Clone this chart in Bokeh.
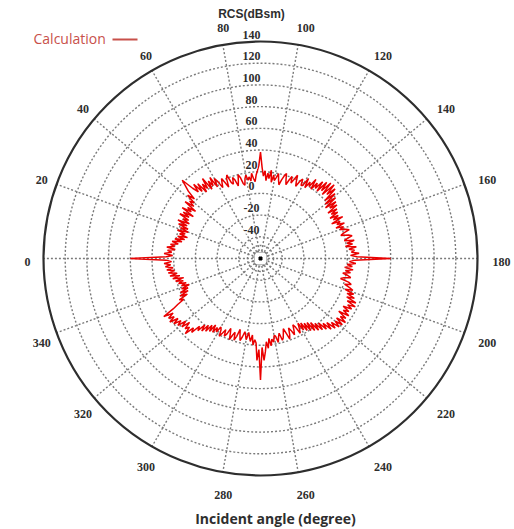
import numpy as np
from bokeh.plotting import figure
from bokeh.models import ColumnDataSource, LabelSet, Label, Range1d
from bokeh.embed import file_html
from bokeh.resources import INLINE

# ---- data -------------------------------------------------------------
# radial axis (dBsm)
R_MIN, R_MAX = -60, 140
ring_values = [120, 100, 80, 60, 40, 20, 0, -20, -40]
radial_tick_values = [140, 120, 100, 80, 60, 40, 20, 0, -20, -40]
radial_tick_labels = ["140", "120", "100", "80", "60", "40", "20", "0", "-20", "-40"]
inner_ring_values = [-48, -53]

# angular axis (degree)
spoke_angles = list(range(0, 360, 20))
angle_tick_labels = [str(a) for a in spoke_angles]

# calculated RCS, one value per degree (0..360)
rcs_angle = list(range(0, 361))
rcs_db = [
    60, 27, 21, 29, 22, 26, 19, 27, 20, 24,
    17, 23, 14, 21, 12, 19, 10, 18, 13, 21,
    11, 19, 12, 22, 14, 24, 13, 20, 15, 25,
    16, 23, 13, 26, 17, 22, 14, 27, 18, 24,
    20, 29, 22, 31, 36, 42, 30, 24, 32, 22,
    30, 19, 27, 21, 31, 18, 26, 20, 28, 17,
    25, 21, 14, 18, 22, 17, 12, 20, 23, 15,
    13, 19, 16, 10, 14, 20, 17, 11, 9, 15,
    18, 13, 16, 12, 19, 14, 11, 17, 21, 26,
    38, 24, 16, 21, 12, 19, 14, 22, 11, 18,
    13, 16, 20, 14, 10, 15, 19, 22, 16, 12,
    17, 21, 15, 19, 24, 18, 14, 20, 23, 17,
    18, 26, 17, 24, 20, 29, 19, 27, 22, 31,
    21, 33, 24, 35, 22, 36, 25, 34, 20, 31,
    18, 29, 16, 27, 19, 26, 15, 24, 17, 23,
    14, 22, 16, 25, 13, 21, 17, 24, 15, 22,
    18, 23, 26, 20, 17, 24, 27, 22, 19, 28,
    21, 26, 19, 29, 22, 27, 24, 31, 23, 29,
    60, 27, 22, 28, 20, 25, 18, 26, 19, 24,
    17, 22, 25, 19, 16, 24, 27, 21, 26, 30,
    23, 32, 26, 34, 27, 37, 29, 38, 31, 36,
    28, 35, 30, 37, 27, 36, 31, 38, 29, 37,
    30, 36, 28, 34, 25, 32, 23, 29, 20, 27,
    18, 25, 15, 23, 13, 21, 12, 19, 10, 17,
    9, 14, 18, 11, 8, 13, 17, 12, 9, 15,
    19, 13, 8, 12, 16, 18, 11, 14, 19, 13,
    12, 18, 15, 21, 14, 23, 17, 26, 34, 22,
    52, 24, 34, 18, 15, 20, 11, 17, 13, 9,
    16, 12, 9, 14, 18, 13, 8, 15, 19, 12,
    15, 20, 14, 10, 16, 19, 13, 17, 21, 15,
    13, 19, 15, 21, 14, 22, 16, 24, 18, 26,
    20, 28, 24, 33, 29, 38, 31, 35, 28, 36,
    30, 38, 33, 40, 34, 42, 36, 41, 35, 44,
    33, 27, 20, 24, 15, 22, 13, 20, 12, 18,
    10, 17, 12, 19, 14, 21, 13, 23, 16, 25,
    18, 26, 20, 27, 21, 28, 23, 29, 22, 27,
    60,
]

# ---- geometry helpers -------------------------------------------------
W, H = 514, 529
CX, CY = 260, 258            # pole position in pixels (from top-left)
K = 217.0 / (R_MAX - R_MIN)  # pixels per dB
TICK_FONT = "Liberation Sans"


def rad(db):
    return np.asarray(db, dtype=float) - R_MIN


def polar(db, deg):
    # 0 deg on the left, angles run clockwise over the top
    phi = np.deg2rad(180.0 - np.asarray(deg, dtype=float))
    r = rad(db)
    return r * np.cos(phi), r * np.sin(phi)


def px(dx_px, dy_px):
    # pixel offset from the pole -> data units (dy positive = down)
    return dx_px / K, -dy_px / K


p = figure(
    width=W, height=H,
    x_range=Range1d(-CX / K, (W - CX) / K),
    y_range=Range1d(-(H - CY) / K, CY / K),
    x_axis_type=None, y_axis_type=None,
    toolbar_location=None, output_backend="svg",
    min_border=0, outline_line_color=None,
    background_fill_color="white", border_fill_color="white",
)
p.grid.visible = False

GRID = "#7a7a7a"
INK = "#2e2e2e"

# dotted grid rings
for v in ring_values + inner_ring_values:
    p.circle(x=0, y=0, radius=float(rad(v)), fill_color=None,
             line_color=GRID, line_width=1.4, line_dash="2 2")

# spokes every 20 degrees
r0 = float(rad(inner_ring_values[-1]))
r1 = float(rad(R_MAX))
ang = np.deg2rad(180.0 - np.array(spoke_angles, dtype=float))
p.segment(x0=r0 * np.cos(ang), y0=r0 * np.sin(ang),
          x1=r1 * np.cos(ang), y1=r1 * np.sin(ang),
          line_color=GRID, line_width=1.4, line_dash="2 2")

# small box and dot at the pole
hb = 6 / K
p.rect(x=0, y=0, width=2 * hb, height=2 * hb, fill_color=None,
       line_color=GRID, line_width=1, line_dash="1 1")
p.rect(x=0, y=0, width=3 / K, height=3 / K, fill_color="black", line_color="black")

# outer boundary
p.circle(x=0, y=0, radius=float(rad(R_MAX)), fill_color=None,
         line_color=INK, line_width=2.2)

# RCS trace
xs, ys = polar(rcs_db, rcs_angle)
p.line(xs, ys, line_color="#ea0000", line_width=1.5)

# radial tick labels along the top
lx, _ = px(-9, 0)
ly = rad(radial_tick_values) + 7 / K
p.add_layout(LabelSet(
    source=ColumnDataSource(dict(x=[lx] * len(ly), y=ly, t=radial_tick_labels)),
    x="x", y="y", text="t", text_align="center", text_baseline="middle",
    text_font=TICK_FONT, text_font_style="bold", text_font_size="12px",
    text_color=INK, background_fill_color="white"))

# angle tick labels around the rim
R_LBL = 237 / K
phi = np.deg2rad(180.0 - np.array(spoke_angles, dtype=float))
ax = R_LBL * np.cos(phi) + 4 / K
ay = R_LBL * np.sin(phi) - 3 / K
p.add_layout(LabelSet(
    source=ColumnDataSource(dict(x=ax, y=ay, t=angle_tick_labels)),
    x="x", y="y", text="t", text_align="center", text_baseline="middle",
    text_font=TICK_FONT, text_font_style="bold", text_font_size="12px",
    text_color=INK))

# axis titles
tx, ty = px(251 - CX, 13 - CY)
p.add_layout(Label(x=tx, y=ty, text="RCS(dBsm)", text_align="center",
                   text_baseline="middle", text_font=TICK_FONT,
                   text_font_style="bold", text_font_size="12px", text_color=INK))
bx, by = px(275 - CX, 518 - CY)
p.add_layout(Label(x=bx, y=by, text="Incident angle (degree)", text_align="center",
                   text_baseline="middle", text_font="Open Sans",
                   text_font_style="bold", text_font_size="14px", text_color=INK))

# legend entry
LEG = "#c8504a"
gx, gy = px(33 - CX, 38 - CY)
p.add_layout(Label(x=gx, y=gy, text="Calculation", text_align="left",
                   text_baseline="middle", text_font="Open Sans",
                   text_font_size="14px", text_color=LEG))
sx0, sy0 = px(112 - CX, 39 - CY)
sx1, _ = px(137 - CX, 0)
p.segment(x0=[sx0], y0=[sy0], x1=[sx1], y1=[sy0], line_color=LEG, line_width=2)

open("out.html", "w").write(file_html(p, INLINE))
